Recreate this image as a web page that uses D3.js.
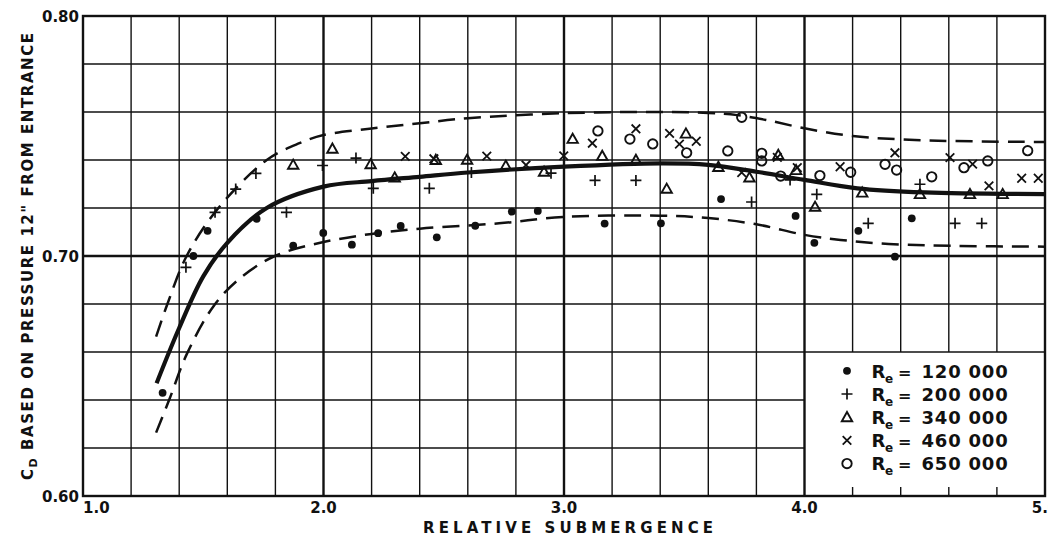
<!DOCTYPE html>
<html>
<head>
<meta charset="utf-8">
<script src="https://cdn.jsdelivr.net/npm/d3@7"></script>
<style>
  html, body { margin: 0; padding: 0; background: #fff; }
  svg { display: block; }
  text { font-family: "DejaVu Sans", "Liberation Sans", sans-serif; font-weight: bold; fill: #111; }
</style>
</head>
<body>
<svg id="chart" width="1048" height="544"></svg>
<script>
// Discharge coefficient (pressure tap 12" from entrance) vs. relative submergence

// Axis tick labels
const xTickValues = [1, 2, 3, 4, 5];
const xTickLabels = ["1.0", "2.0", "3.0", "4.0", "5.0"];
const yTickValues = [0.60, 0.70, 0.80];
const yTickLabels = ["0.60", "0.70", "0.80"];

// Series: Reynolds number labels and marker kinds
const reynoldsLabels = ["120 000", "200 000", "340 000", "460 000", "650 000"];
const markerKinds = ["dot", "plus", "triangle", "cross", "ring"];

// Measurements: [relative submergence, Cd]
const re120 = [
  [1.331, 0.643], [1.459, 0.700], [1.518, 0.7105], [1.722, 0.7155], [1.874, 0.7043],
  [1.999, 0.7096], [2.118, 0.7047], [2.227, 0.7095], [2.321, 0.7125], [2.471, 0.7078],
  [2.631, 0.7126], [2.783, 0.7185], [2.891, 0.7188], [3.169, 0.7135], [3.403, 0.7136],
  [3.653, 0.7237], [3.963, 0.7167], [4.041, 0.7055], [4.224, 0.7105], [4.376, 0.6997],
  [4.446, 0.7157]
];
const re200 = [
  [1.428, 0.6953], [1.549, 0.7182], [1.635, 0.7279], [1.719, 0.7344], [1.846, 0.7182],
  [1.996, 0.7377], [2.135, 0.7408], [2.207, 0.7282], [2.440, 0.7282], [2.615, 0.7348],
  [2.946, 0.7345], [3.129, 0.7315], [3.299, 0.7315], [3.780, 0.7225], [3.940, 0.7317],
  [4.051, 0.7257], [4.265, 0.7136], [4.480, 0.7299], [4.626, 0.7136], [4.737, 0.7136]
];
const re340 = [
  [1.874, 0.738], [2.037, 0.7447], [2.196, 0.7382], [2.296, 0.7327], [2.467, 0.740],
  [2.597, 0.7401], [2.758, 0.7376], [2.917, 0.7351], [3.036, 0.7488], [3.159, 0.7417],
  [3.299, 0.740], [3.427, 0.728], [3.507, 0.751], [3.642, 0.7371], [3.771, 0.7327],
  [3.891, 0.7421], [3.965, 0.7358], [4.044, 0.7205], [4.240, 0.7264], [4.480, 0.7258],
  [4.688, 0.7258], [4.824, 0.7258]
];
const re460 = [
  [2.340, 0.7415], [2.459, 0.7405], [2.679, 0.7416], [2.842, 0.7379], [2.999, 0.7417],
  [3.118, 0.747], [3.299, 0.753], [3.439, 0.7511], [3.480, 0.7466], [3.550, 0.7478],
  [3.739, 0.7348], [3.887, 0.7411], [3.970, 0.7368], [4.148, 0.7372], [4.376, 0.743],
  [4.605, 0.7410], [4.699, 0.7383], [4.767, 0.7292], [4.903, 0.7324], [4.972, 0.7324]
];
const re650 = [
  [3.141, 0.7521], [3.274, 0.7487], [3.369, 0.7467], [3.510, 0.743], [3.681, 0.7438],
  [3.739, 0.7578], [3.822, 0.7428], [3.822, 0.7396], [3.901, 0.7333], [4.064, 0.7335],
  [4.192, 0.7349], [4.335, 0.7382], [4.383, 0.7358], [4.529, 0.733], [4.663, 0.7368],
  [4.762, 0.7396], [4.928, 0.7439]
];

// Faired curves: mean (solid) and envelope (dashed)
const fitMean = [
  [1.306, 0.647], [1.40, 0.670], [1.50, 0.6915], [1.60, 0.7055], [1.764, 0.720],
  [2.00, 0.7289], [2.20, 0.7312], [2.40, 0.733], [2.60, 0.7348],
  [3.00, 0.7372], [3.40, 0.7386], [3.60, 0.738], [3.80, 0.7351], [4.00, 0.7317],
  [4.22, 0.7282], [4.50, 0.7265], [5.00, 0.7258]
];
const fitUpper = [
  [1.304, 0.6664], [1.351, 0.680], [1.431, 0.700], [1.563, 0.720], [1.764, 0.740],
  [1.90, 0.747], [2.00, 0.7504], [2.20, 0.7531], [2.40, 0.7553], [2.60, 0.7574],
  [3.00, 0.7595], [3.40, 0.760], [3.60, 0.7596], [3.72, 0.7587], [3.84, 0.7567],
  [4.00, 0.7532], [4.20, 0.750], [4.50, 0.7482], [5.00, 0.7475]
];
const fitLower = [
  [1.304, 0.6264], [1.36, 0.6405], [1.431, 0.659], [1.542, 0.679], [1.65, 0.6905],
  [1.798, 0.700], [2.00, 0.7058], [2.20, 0.7092], [2.40, 0.7114], [2.73, 0.7136],
  [3.00, 0.7163], [3.40, 0.7168], [3.60, 0.7158], [3.80, 0.7132], [4.00, 0.7088],
  [4.15, 0.7067], [4.35, 0.705], [4.63, 0.7042], [5.00, 0.7039]
];

const seriesData = [re120, re200, re340, re460, re650];

const ink = "#111";
const svg = d3.select("#chart");

const x = d3.scaleLinear().domain([1, 5]).range([83, 1045]);
const y = d3.scaleLinear().domain([0.60, 0.80]).range([496, 16]);

// Legend occupies the lower-right cells (4.0–5.0, 0.60–0.66)
const legendX0 = 4.0, legendY1 = 0.66;

svg.append("rect").attr("width", 1048).attr("height", 544).attr("fill", "#fff");

// Grid
const grid = svg.append("g").attr("stroke", ink);
const xGrid = d3.range(6, 25).map(i => i / 5);
grid.selectAll("line.v").data(xGrid).join("line")
  .attr("class", "v")
  .attr("x1", d => x(d)).attr("x2", d => x(d))
  .attr("y1", y(0.80))
  .attr("y2", d => d > legendX0 + 1e-6 ? y(legendY1) : y(0.60))
  .attr("stroke-width", d => Math.abs(d - Math.round(d)) < 1e-6 ? 2.4 : 1.4);

const yGrid = d3.range(31, 40).map(i => i / 50);
grid.selectAll("line.h").data(yGrid).join("line")
  .attr("class", "h")
  .attr("y1", d => y(d)).attr("y2", d => y(d))
  .attr("x1", x(1))
  .attr("x2", d => d < legendY1 - 1e-6 ? x(legendX0) : x(5))
  .attr("stroke-width", d => Math.abs(d - 0.70) < 1e-6 ? 2.4 : 1.4);

// Short ticks on the bottom edge below the legend
const legendTicks = xGrid.filter(d => d > legendX0 + 1e-6);
grid.selectAll("line.t").data(legendTicks).join("line")
  .attr("class", "t")
  .attr("x1", d => x(d)).attr("x2", d => x(d))
  .attr("y1", y(0.60)).attr("y2", y(0.60) - 9)
  .attr("stroke-width", 1.4);

// Frame
svg.append("rect")
  .attr("x", x(1)).attr("y", y(0.80))
  .attr("width", x(5) - x(1)).attr("height", y(0.60) - y(0.80))
  .attr("fill", "none").attr("stroke", ink).attr("stroke-width", 2.4);

// Faired curves
const line = d3.line().x(d => x(d[0])).y(d => y(d[1])).curve(d3.curveCatmullRom.alpha(0.5));
svg.append("path").attr("d", line(fitUpper))
  .attr("fill", "none").attr("stroke", ink).attr("stroke-width", 2.5)
  .attr("stroke-dasharray", "17,9");
svg.append("path").attr("d", line(fitLower))
  .attr("fill", "none").attr("stroke", ink).attr("stroke-width", 2.5)
  .attr("stroke-dasharray", "17,9");
svg.append("path").attr("d", line(fitMean))
  .attr("fill", "none").attr("stroke", ink).attr("stroke-width", 4.2);

// Marker drawing
function drawMarker(g, kind) {
  if (kind === "dot") {
    g.append("circle").attr("r", 3.9).attr("fill", ink);
  } else if (kind === "plus") {
    g.append("path").attr("d", "M-5.5,0H5.5M0,-5.5V5.5")
      .attr("stroke", ink).attr("stroke-width", 1.7).attr("fill", "none");
  } else if (kind === "triangle") {
    g.append("path").attr("d", "M0,-5.2L5.2,4L-5.2,4Z")
      .attr("stroke", ink).attr("stroke-width", 1.9).attr("fill", "none")
      .attr("stroke-linejoin", "miter");
  } else if (kind === "cross") {
    g.append("path").attr("d", "M-4.3,-4.3L4.3,4.3M-4.3,4.3L4.3,-4.3")
      .attr("stroke", ink).attr("stroke-width", 1.8).attr("fill", "none");
  } else if (kind === "ring") {
    g.append("circle").attr("r", 4.7)
      .attr("stroke", ink).attr("stroke-width", 1.9).attr("fill", "none");
  }
}

seriesData.forEach((pts, i) => {
  const g = svg.append("g");
  g.selectAll("g").data(pts).join("g")
    .attr("transform", d => `translate(${x(d[0])},${y(d[1])})`)
    .each(function () { drawMarker(d3.select(this), markerKinds[i]); });
});

// Legend
const legend = svg.append("g");
reynoldsLabels.forEach((lab, i) => {
  const base = 377.5 + i * 23.2;
  const sym = legend.append("g").attr("transform", `translate(847,${base - 6.7})`);
  drawMarker(sym, markerKinds[i]);
  legend.append("text").attr("x", 871.5).attr("y", base)
    .attr("font-size", 18).text("R");
  legend.append("text").attr("x", 885).attr("y", base + 5)
    .attr("font-size", 12).text("e");
  legend.append("text").attr("x", 898).attr("y", base)
    .attr("font-size", 16).text("=");
  legend.append("text").attr("x", 921.5).attr("y", base)
    .attr("font-size", 18).attr("letter-spacing", 0.8).text(lab);
});

// Tick labels
svg.selectAll("text.xl").data(xTickValues).join("text")
  .attr("class", "xl")
  .attr("x", d => x(d))
  .attr("y", 513)
  .attr("text-anchor", (d, i) => i === 0 ? "start" : "middle")
  .attr("font-size", 15)
  .text((d, i) => xTickLabels[i]);

svg.selectAll("text.yl").data(yTickValues).join("text")
  .attr("class", "yl")
  .attr("x", 79)
  .attr("y", d => y(d) + 5.5)
  .attr("text-anchor", "end")
  .attr("font-size", 15)
  .text((d, i) => yTickLabels[i]);

// Axis titles
svg.append("text")
  .attr("x", 568).attr("y", 533)
  .attr("text-anchor", "middle")
  .attr("font-size", 15)
  .attr("textLength", 290).attr("lengthAdjust", "spacing")
  .text("RELATIVE  SUBMERGENCE");

const yTitle = svg.append("text")
  .attr("transform", "translate(33,256.5) rotate(-90)")
  .attr("text-anchor", "middle")
  .attr("font-size", 15)
  .attr("textLength", 447).attr("lengthAdjust", "spacing");
yTitle.append("tspan").text("C");
yTitle.append("tspan").attr("font-size", 11).attr("dy", 4).text("D");
yTitle.append("tspan").attr("dy", -4).text("  BASED  ON  PRESSURE  12\"  FROM  ENTRANCE");
</script>
</body>
</html>
